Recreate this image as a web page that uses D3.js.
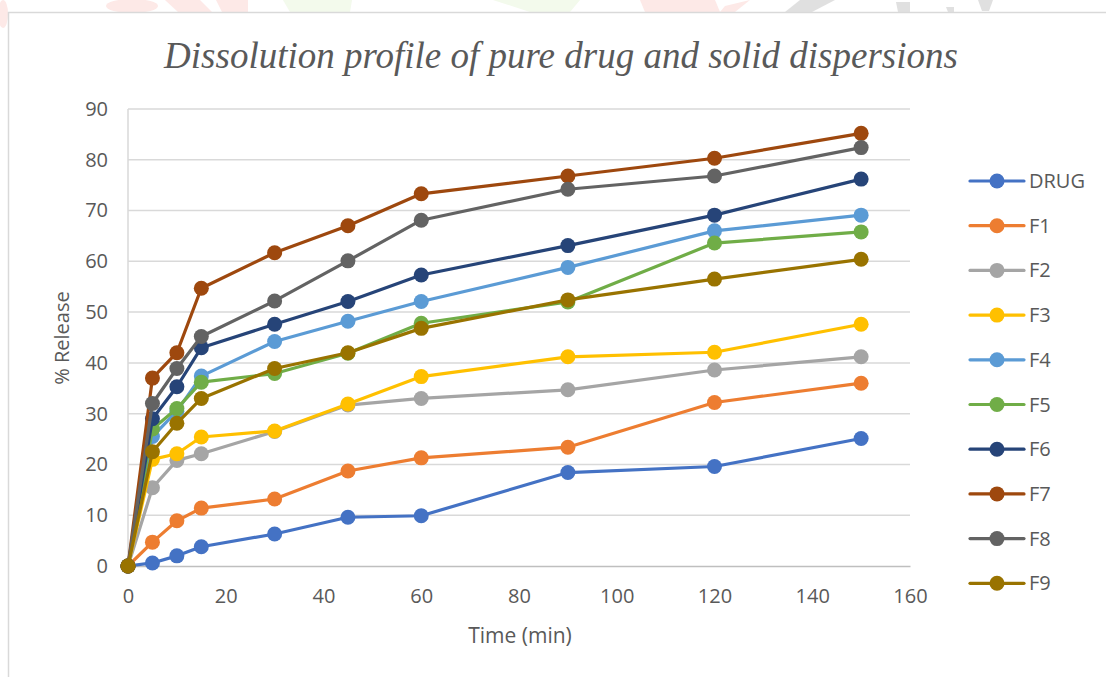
<!DOCTYPE html>
<html>
<head>
<meta charset="utf-8">
<script src="https://cdn.jsdelivr.net/npm/d3@7"></script>
<style>
  body { margin: 0; background: #fff; }
  svg text { font-family: 'Open Sans', 'Liberation Sans', sans-serif; fill: #595959; }
</style>
</head>
<body>
<svg id="chart" width="1106" height="677"></svg>
<script>
// Data
const times = [0, 5, 10, 15, 30, 45, 60, 90, 120, 150];
const seriesNames = ['DRUG', 'F1', 'F2', 'F3', 'F4', 'F5', 'F6', 'F7', 'F8', 'F9'];
const drug = [0, 0.6, 2.0, 3.8, 6.3, 9.6, 9.9, 18.4, 19.6, 25.1];
const f1 = [0, 4.7, 8.9, 11.4, 13.2, 18.7, 21.3, 23.4, 32.2, 36.0];
const f2 = [0, 15.4, 20.8, 22.1, 26.5, 31.7, 33.0, 34.7, 38.6, 41.2];
const f3 = [0, 21.0, 22.1, 25.4, 26.6, 31.9, 37.3, 41.2, 42.1, 47.6];
const f4 = [0, 25.5, 30.5, 37.4, 44.2, 48.2, 52.1, 58.8, 66.0, 69.1];
const f5 = [0, 27.0, 31.0, 36.2, 37.9, 41.9, 47.8, 52.0, 63.6, 65.8];
const f6 = [0, 29.0, 35.3, 43.0, 47.6, 52.1, 57.3, 63.1, 69.1, 76.2];
const f7 = [0, 37.0, 42.0, 54.7, 61.7, 67.0, 73.3, 76.8, 80.3, 85.2];
const f8 = [0, 32.0, 38.9, 45.2, 52.2, 60.1, 68.1, 74.2, 76.8, 82.4];
const f9 = [0, 22.5, 28.1, 33.0, 38.9, 42.0, 46.8, 52.4, 56.5, 60.4];
const xTicks = [0, 20, 40, 60, 80, 100, 120, 140, 160];
const yTicks = [0, 10, 20, 30, 40, 50, 60, 70, 80, 90];

// Colors
const colors = ['#4472C4', '#ED7D31', '#A5A5A5', '#FFC000', '#5B9BD5', '#70AD47', '#264478', '#9E480E', '#636363', '#997300'];
const grid = '#d9d9d9';

const seriesValues = [drug, f1, f2, f3, f4, f5, f6, f7, f8, f9];
const series = seriesNames.map((name, i) => ({
  name: name,
  color: colors[i],
  points: times.map((t, j) => ({t: t, v: seriesValues[i][j]}))
}));

const svg = d3.select('#chart');

// Faint watermark fragments above the chart frame
const wm = svg.append('g').attr('opacity', 0.7);
wm.append('ellipse').attr('cx', 3).attr('cy', 14).attr('rx', 5).attr('ry', 14).attr('fill', '#fde0dd');
wm.append('ellipse').attr('cx', 132).attr('cy', 6).attr('rx', 26).attr('ry', 7).attr('fill', '#fde0dd');
wm.append('path').attr('d', 'M165,0 L200,0 L212,12 L178,12 Z').attr('fill', '#fde0dd');
wm.append('path').attr('d', 'M216,0 L248,0 L248,12 L222,12 Z').attr('fill', '#fde0dd');
wm.append('path').attr('d', 'M283,0 L352,0 L350,12 L290,12 Z').attr('fill', '#eef8e4');
wm.append('path').attr('d', 'M493,0 L580,0 L570,12 L530,12 Z').attr('fill', '#eef8e4');
wm.append('path').attr('d', 'M640,0 L715,0 L720,12 L645,12 Z').attr('fill', '#fde0dd');
wm.append('path').attr('d', 'M725,6 L750,0 L735,12 L720,12 Z').attr('fill', '#fde0dd');
wm.append('path').attr('d', 'M800,0 L835,0 L812,12 L785,12 Z').attr('fill', '#d4d4d4');
wm.append('path').attr('d', 'M896,2 L910,2 L910,12 L898,12 Z').attr('fill', '#d4d4d4');
wm.append('path').attr('d', 'M946,7 L954,7 L954,12 L948,12 Z').attr('fill', '#d4d4d4');
wm.append('path').attr('d', 'M978,0 L993,0 L989,11 L982,11 Z').attr('fill', '#d4d4d4');

// Chart frame
svg.append('rect')
  .attr('x', 8.5).attr('y', 12.5)
  .attr('width', 1110).attr('height', 680)
  .attr('fill', 'white')
  .attr('stroke', grid)
  .attr('stroke-width', 1.5);

// Title
svg.append('text')
  .attr('x', 561).attr('y', 68)
  .attr('text-anchor', 'middle')
  .style('font-family', "'Liberation Serif', 'DejaVu Serif', serif")
  .style('font-style', 'italic')
  .style('font-size', '37px')
  .style('fill', '#595959')
  .text('Dissolution profile of pure drug and solid dispersions');

// Scales
const x = d3.scaleLinear().domain([0, 160]).range([128, 910]);
const y = d3.scaleLinear().domain([0, 90]).range([566, 109]);

// Gridlines
svg.append('g')
  .attr('class', 'grid')
  .selectAll('line')
  .data(yTicks.filter(d => d > 0))
  .join('line')
  .attr('x1', x(0)).attr('x2', x(160))
  .attr('y1', d => y(d)).attr('y2', d => y(d))
  .attr('stroke', grid)
  .attr('stroke-width', 1.5);

svg.append('line')
  .attr('x1', x(0)).attr('x2', x(0))
  .attr('y1', y(90)).attr('y2', y(0))
  .attr('stroke', grid)
  .attr('stroke-width', 1.5);

// Axes
const xAxis = svg.append('g')
  .attr('transform', `translate(0,${y(0)})`)
  .call(d3.axisBottom(x).tickValues(xTicks).tickSize(0).tickPadding(23));
xAxis.select('.domain').attr('stroke', '#bfbfbf').attr('stroke-width', 1.5);
xAxis.selectAll('text').style('font-size', '20px').style('fill', '#595959');

const yAxis = svg.append('g')
  .attr('transform', `translate(${x(0)},0)`)
  .call(d3.axisLeft(y).tickValues(yTicks).tickSize(0).tickPadding(20));
yAxis.select('.domain').remove();
yAxis.selectAll('text').style('font-size', '20px').style('fill', '#595959');

// Axis titles
svg.append('text')
  .attr('x', 520).attr('y', 643)
  .attr('text-anchor', 'middle')
  .style('font-size', '21px')
  .text('Time (min)');

svg.append('text')
  .attr('transform', `translate(69,338) rotate(-90)`)
  .attr('text-anchor', 'middle')
  .style('font-size', '20px')
  .text('% Release');

// Lines and markers
const line = d3.line().x(d => x(d.t)).y(d => y(d.v));
const seriesGroups = svg.append('g')
  .selectAll('g')
  .data(series)
  .join('g');

seriesGroups.append('path')
  .attr('d', d => line(d.points))
  .attr('fill', 'none')
  .attr('stroke', d => d.color)
  .attr('stroke-width', 3.2)
  .attr('stroke-linejoin', 'round');

seriesGroups.selectAll('circle')
  .data(d => d.points.map(p => ({...p, color: d.color})))
  .join('circle')
  .attr('cx', d => x(d.t))
  .attr('cy', d => y(d.v))
  .attr('r', 7.5)
  .attr('fill', d => d.color);

// Legend
const legend = svg.append('g')
  .selectAll('g')
  .data(series)
  .join('g')
  .attr('transform', (d, i) => `translate(970,${181 + i * 44.7})`);

legend.append('line')
  .attr('x1', 0).attr('x2', 54)
  .attr('stroke', d => d.color)
  .attr('stroke-width', 3.2)
  .attr('stroke-linecap', 'round');

legend.append('circle')
  .attr('cx', 27)
  .attr('r', 7.5)
  .attr('fill', d => d.color);

legend.append('text')
  .attr('x', 59)
  .attr('dy', '0.35em')
  .style('font-size', '20px')
  .text(d => d.name);
</script>
</body>
</html>
